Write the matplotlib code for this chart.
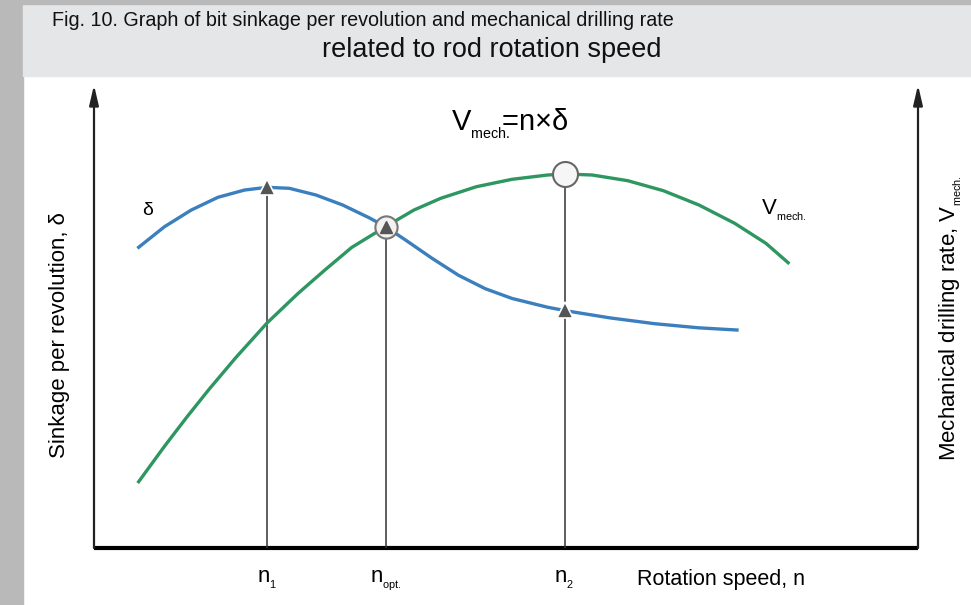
import matplotlib
matplotlib.use("Agg")
import matplotlib.pyplot as plt
from matplotlib.patches import Rectangle

plt.rcParams['font.family'] = ['Liberation Sans', 'DejaVu Sans']
plt.rcParams['mathtext.fontset'] = 'custom'
plt.rcParams['mathtext.rm'] = 'Liberation Sans'
plt.rcParams['mathtext.it'] = 'Liberation Sans'

# rotation speed n (arbitrary units, 0..100 along the axis)
n_delta = [5.42, 8.56, 11.81, 15.05, 18.29, 21.00, 23.70, 26.94, 30.18,
           33.42, 35.38, 37.74, 41.00, 44.24, 47.49, 50.73, 55.05, 57.10,
           58.50, 62.62, 68.02, 73.42, 78.03]
delta = [64.95, 69.40, 73.00, 75.75, 77.32, 77.90, 77.69, 76.24, 74.08,
         71.30, 69.40, 66.60, 62.60, 58.90, 56.00, 53.90, 52.00, 51.30,
         50.88, 49.70, 48.45, 47.55, 47.08]

n_vmech = [5.42, 8.56, 11.26, 13.97, 17.21, 21.00, 24.78, 28.02, 31.26,
           35.38, 38.83, 42.08, 46.40, 50.73, 55.05, 57.10, 60.46, 64.78,
           69.10, 73.42, 77.75, 81.54, 84.24]
vmech = [14.32, 21.98, 28.26, 34.29, 41.12, 48.60, 55.01, 60.04, 64.90,
         69.40, 73.00, 75.53, 78.03, 79.63, 80.56, 80.78, 80.56, 79.33,
         77.17, 74.08, 70.13, 65.81, 61.62]

# characteristic speeds and the curve values there
n1, n_opt, n2 = 21.00, 35.38, 57.10
delta_n1, cross_opt, vmech_n2, delta_n2 = 77.90, 69.40, 80.78, 51.30
tick_labels = [r'$\mathregular{n_{_1}}$', r'$\mathregular{n_{_{opt.}}}$',
               r'$\mathregular{n_{_2}}$']

BLUE = '#3b7fbf'
GREEN = '#2e9660'
DARK = '#222222'
NARROW = ['Liberation Sans Narrow', 'Liberation Sans', 'DejaVu Sans']

fig = plt.figure(figsize=(9.71, 6.05), dpi=100)
fig.patch.set_facecolor('white')

# header band and grey frame
fig.patches.append(Rectangle((0, 0), 23 / 971, 1, transform=fig.transFigure,
                             color='#b9b9ba', zorder=0))
fig.patches.append(Rectangle((23 / 971, 1 - 76 / 605), 1, 72 / 605,
                             transform=fig.transFigure, color='#e5e6e7',
                             zorder=0))
fig.patches.append(Rectangle((0, 1 - 4 / 605), 1, 4 / 605,
                             transform=fig.transFigure, color='#b9b9ba',
                             zorder=0))
fig.text(52 / 971, 1 - 21 / 605,
         'Fig. 10. Graph of bit sinkage per revolution and mechanical drilling rate',
         family=NARROW, fontsize=14.2, va='center', ha='left', color='#111111')
fig.text(492 / 971, 1 - 50 / 605, 'related to rod rotation speed',
         family=NARROW, fontsize=19.5, va='center', ha='center',
         color='#111111')

ax = fig.add_axes([94 / 971, 57 / 605, 824 / 971, 463 / 605])
ax.set_xlim(0, 100)
ax.set_ylim(0, 100)
ax.axis('off')

# axes with arrows
arrow = dict(arrowstyle='-|>,head_length=0.6,head_width=0.14',
             mutation_scale=20, color=DARK, lw=1.6, shrinkA=0, shrinkB=0)
ax.annotate('', xy=(0, 100), xytext=(0, 0), arrowprops=arrow)
ax.annotate('', xy=(100, 100), xytext=(100, 0), arrowprops=arrow)
ax.plot([0, 100], [0, 0], color='black', lw=3, solid_capstyle='butt',
        clip_on=False)

# projection lines
ax.vlines([n1, n_opt, n2], 0, [delta_n1, cross_opt, vmech_n2],
          color='#333333', lw=1.1, zorder=2)

ax.plot(n_delta, delta, color=BLUE, lw=2.4, zorder=3,
        solid_joinstyle='round')
ax.plot(n_vmech, vmech, color=GREEN, lw=2.4, zorder=3,
        solid_joinstyle='round')

ax.plot([n_opt], [cross_opt], 'o', ms=16, mfc='#f2f2f2', mec='#777777',
        mew=1.5, zorder=4)
ax.plot([n2], [vmech_n2], 'o', ms=18, mfc='#f6f6f6', mec='#666666',
        mew=1.5, zorder=4)
ax.plot([n1, n2], [delta_n1, delta_n2], '^', ms=11.5, mfc='#555555',
        mec='white', mew=1.2, zorder=5)
ax.plot([n_opt], [cross_opt], '^', ms=8.5, color='#555555', zorder=5)

ax.text(6.5, 73.0, 'δ', fontsize=14, ha='center', va='center')
ax.text(83.7, 73.0, r'$\mathregular{V_{_{mech.}}}$', fontsize=16,
        ha='center', va='center')
ax.text(50.4, 91.5, r'$\mathregular{V_{_{mech.}}\!\!\!}$=n×δ',
        fontsize=21, ha='center', va='center')

for xv, lab in zip([n1, n_opt, n2], tick_labels):
    ax.text(xv, -7.0, lab, fontsize=16, ha='center', va='center')
ax.text(65.9, -6.8, 'Rotation speed, n', fontsize=15.5, ha='left',
        va='center')

fig.text(59 / 971, 1 - 335 / 605, 'Sinkage per revolution, δ', fontsize=16,
         rotation=90, ha='center', va='center')
fig.text(951 / 971, 1 - 318 / 605,
         r'Mechanical drilling rate, $\mathregular{V_{_{mech.}}}$',
         fontsize=16, rotation=90, ha='center', va='center')

fig.savefig('out.png', dpi=100)
